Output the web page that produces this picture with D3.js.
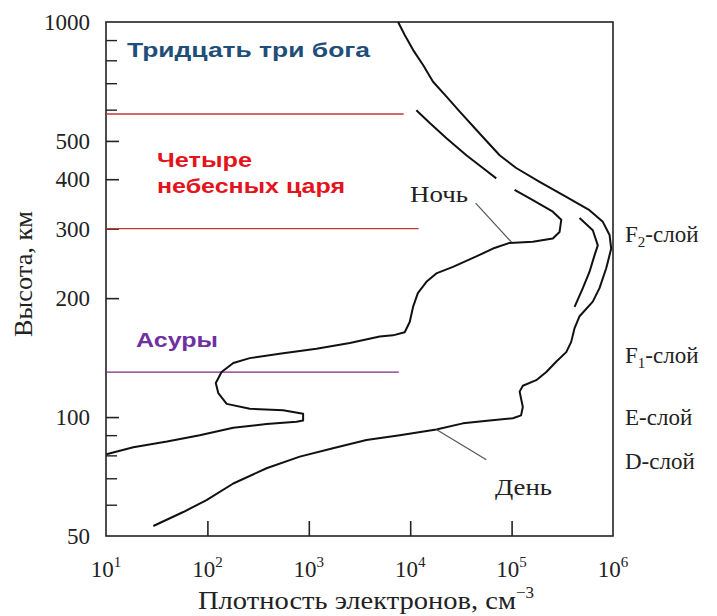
<!DOCTYPE html>
<html><head><meta charset="utf-8">
<script src="https://cdn.jsdelivr.net/npm/d3@7"></script>
<style>body{margin:0;background:#fff}</style>
</head><body><svg id="chart" width="717" height="616"></svg>
<script>
// ---- data (electron density, cm^-3 ; altitude, km) ----
const dayDensity = [7600, 8830, 10700, 13400, 16800, 22800, 30800, 48400, 76200, 111000, 189000, 346000, 586000, 794000, 925000, 960000, 889000, 857000, 736000, 632000, 468000, 418000, 387000, 346000, 275000, 220000, 175000, 129000, 120000, 129000, 124000, 103000, 60700, 33100, 18100, 7890, 3700, 1730, 815, 383, 180, 98, 57.8, 29.3];
const dayAltitude = [1000, 927, 849, 778, 706, 647, 593, 522, 460, 427, 394, 361, 334, 312, 289, 267, 247, 238, 212, 196, 180, 168, 155, 146, 138, 130, 124, 120, 116, 106, 101, 99.3, 98, 96.4, 93, 90, 87.5, 83.4, 79.4, 74.2, 67.9, 61.6, 57.5, 53];

const dayInnerDensity = [468000, 632000, 708000, 658000, 586000, 504000, 418000];
const dayInnerAltitude = [319, 297, 272, 257, 233, 212, 190];

const nightUpperDensity = [11500, 15600, 22800, 35800, 52100, 70600];
const nightUpperAltitude = [598, 555, 508, 460, 427, 402];

const nightLowerDensity = [107000, 162000, 255000, 309000, 297000, 255000, 162000, 95500, 65500, 44900, 26400, 18100, 14450, 11900, 10670, 9890, 8830, 6760, 5010, 2540, 1190, 558, 262, 180, 138, 121, 128, 155, 262, 558, 879, 879, 757, 383, 180, 84, 40, 18.6, 10.1];
const nightLowerAltitude = [376, 354, 331, 316, 294, 283, 278, 276, 267, 255, 240, 231, 220, 206, 190, 174, 164, 161, 160, 154, 149, 145, 141, 137, 130, 122, 115, 108, 105, 104, 102, 98, 97.3, 96, 94, 90, 86.7, 83.9, 80.5];

const xTickValues = [10, 100, 1000, 10000, 100000, 1000000];
const xTickExponents = ["1", "2", "3", "4", "5", "6"];
const yTickValues = [50, 100, 200, 300, 400, 500, 1000];
const yMinorTickValues = [60, 70, 80, 90, 600, 700, 800, 900];

const boundaryAltitudes = [585, 300, 130];
const boundaryEndDensity = [8630, 12100, 7710];

const layerNames = ["F", "F", "E-слой", "D-слой"];
const layerSubs = ["2", "1", "", ""];
const layerAltitudes = [290, 144, 100, 77.4];

const nightLeader = [[44200, 348], [100000, 277]];
const dayLeader = [[18100, 93], [56400, 78]];

// ---- scales ----
const svg = d3.select("#chart");
const x = d3.scaleLog().domain([10, 1e6]).range([106, 613]);
const y = d3.scaleLog().domain([50, 1000]).range([536, 22]);
const serif = "'Liberation Serif','Times New Roman',serif";
const sans = "'Liberation Sans',Arial,sans-serif";

// frame
svg.append("rect")
  .attr("x", x(10)).attr("y", y(1000))
  .attr("width", x(1e6) - x(10)).attr("height", y(50) - y(1000))
  .attr("fill", "none").attr("stroke", "#222").attr("stroke-width", 1.6);

// x axis ticks (inward)
const gx = svg.append("g").attr("transform", `translate(0,${y(50)})`)
  .call(d3.axisBottom(x).tickValues(xTickValues.slice(1, -1)).tickSizeInner(-15).tickSizeOuter(0).tickFormat(""));
gx.select(".domain").remove();
gx.selectAll(".tick line").attr("stroke", "#222").attr("stroke-width", 1.6);

// x tick labels
const xl = svg.append("g");
xTickValues.forEach((v, i) => {
  const t = xl.append("text").attr("x", x(v)).attr("y", 577)
    .attr("text-anchor", "middle").attr("font-family", serif).attr("font-size", 23).attr("fill", "#222");
  t.append("tspan").text("10");
  t.append("tspan").attr("dy", -10).attr("font-size", 15).text(xTickExponents[i]);
});

// y axis ticks
const gy = svg.append("g").attr("transform", `translate(${x(10)},0)`)
  .call(d3.axisLeft(y).tickValues(yTickValues.slice(1, -1)).tickSizeInner(-13).tickSizeOuter(0).tickFormat(""));
gy.select(".domain").remove();
gy.selectAll(".tick line").attr("stroke", "#222").attr("stroke-width", 1.6);
const gym = svg.append("g").attr("transform", `translate(${x(10)},0)`)
  .call(d3.axisLeft(y).tickValues(yMinorTickValues).tickSizeInner(-11).tickSizeOuter(0).tickFormat(""));
gym.select(".domain").remove();
gym.selectAll(".tick line").attr("stroke", "#222").attr("stroke-width", 1.4);

// y tick labels
svg.append("g").selectAll("text").data(yTickValues).join("text")
  .attr("x", 90).attr("y", d => y(d) + 8)
  .attr("text-anchor", "end").attr("font-family", serif).attr("font-size", 23).attr("fill", "#222")
  .text(d => d);

// axis titles
const xt = svg.append("text").attr("x", 198).attr("y", 609)
  .attr("font-family", serif).attr("font-size", 25).attr("fill", "#222");
xt.append("tspan").text("Плотность электронов, см").attr("textLength", 318).attr("lengthAdjust", "spacingAndGlyphs");
xt.append("tspan").attr("dy", -11).attr("font-size", 17).text("−3");

svg.append("text").attr("transform", "translate(32,274) rotate(-90)")
  .attr("text-anchor", "middle").attr("font-family", serif).attr("font-size", 25).attr("fill", "#222")
  .attr("textLength", 126).attr("lengthAdjust", "spacingAndGlyphs")
  .text("Высота, км");

// boundary lines
const lineColors = ["#c0393b", "#c0393b", "#7e2a78"];
boundaryAltitudes.forEach((a, i) => {
  svg.append("line").attr("x1", x(10)).attr("x2", x(boundaryEndDensity[i]))
    .attr("y1", y(a)).attr("y2", y(a))
    .attr("stroke", lineColors[i]).attr("stroke-width", 1.3);
});

// curves
const line = d3.line().x(d => x(d[0])).y(d => y(d[1]));
const curves = [
  d3.zip(dayDensity, dayAltitude),
  d3.zip(dayInnerDensity, dayInnerAltitude),
  d3.zip(nightUpperDensity, nightUpperAltitude),
  d3.zip(nightLowerDensity, nightLowerAltitude)
];
svg.append("g").selectAll("path").data(curves).join("path")
  .attr("d", line).attr("fill", "none").attr("stroke", "#111")
  .attr("stroke-width", 2).attr("stroke-linejoin", "round");

// leaders
[nightLeader, dayLeader].forEach(l => {
  svg.append("path").attr("d", line(l)).attr("stroke", "#555").attr("stroke-width", 1.2).attr("fill", "none");
});

// curve labels
svg.append("text").attr("x", 410).attr("y", 202).attr("font-family", serif).attr("font-size", 24)
  .attr("fill", "#222").attr("textLength", 58).attr("lengthAdjust", "spacingAndGlyphs").text("Ночь");
svg.append("text").attr("x", 495).attr("y", 495).attr("font-family", serif).attr("font-size", 24)
  .attr("fill", "#222").attr("textLength", 57).attr("lengthAdjust", "spacingAndGlyphs").text("День");

// layer labels
layerNames.forEach((n, i) => {
  const t = svg.append("text").attr("x", 625).attr("y", y(layerAltitudes[i]) + 8)
    .attr("font-family", serif).attr("font-size", 23).attr("fill", "#222");
  if (layerSubs[i]) {
    t.append("tspan").text(n);
    t.append("tspan").attr("dy", 5).attr("font-size", 15).text(layerSubs[i]);
    t.append("tspan").attr("dy", -5).text("-слой");
  } else {
    t.text(n);
  }
});

// annotations
svg.append("text").attr("x", 127).attr("y", 57).attr("font-family", sans).attr("font-weight", "bold")
  .attr("font-size", 21).attr("fill", "#1f4e79").attr("textLength", 243).attr("lengthAdjust", "spacingAndGlyphs")
  .text("Тридцать три бога");
svg.append("text").attr("x", 157).attr("y", 167).attr("font-family", sans).attr("font-weight", "bold")
  .attr("font-size", 21).attr("fill", "#e3141c").attr("textLength", 95).attr("lengthAdjust", "spacingAndGlyphs")
  .text("Четыре");
svg.append("text").attr("x", 157).attr("y", 193).attr("font-family", sans).attr("font-weight", "bold")
  .attr("font-size", 21).attr("fill", "#e3141c").attr("textLength", 188).attr("lengthAdjust", "spacingAndGlyphs")
  .text("небесных царя");
svg.append("text").attr("x", 136).attr("y", 347).attr("font-family", sans).attr("font-weight", "bold")
  .attr("font-size", 21).attr("fill", "#7030a0").attr("textLength", 82).attr("lengthAdjust", "spacingAndGlyphs")
  .text("Асуры");
</script>
</body></html>
